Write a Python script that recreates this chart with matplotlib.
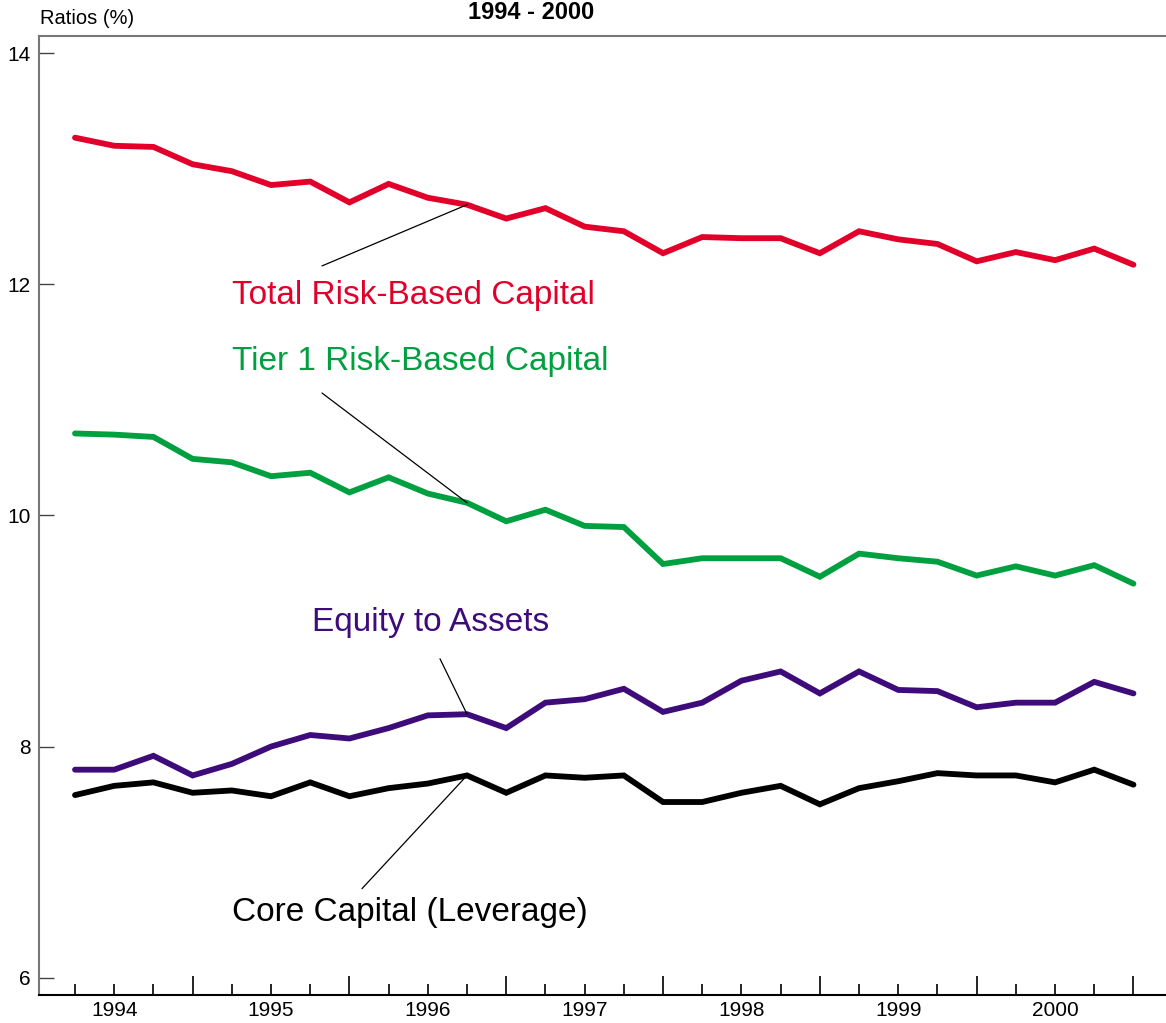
#Imports
import matplotlib
matplotlib.use('Agg')
import matplotlib.pyplot as plt
import numpy as np

plt.rcParams['font.family'] = ['Liberation Sans', 'DejaVu Sans']

#Data - quarterly ratios (%), 1994 Q1 - 2000 Q4
years = ['1994', '1995', '1996', '1997', '1998', '1999', '2000']
total_rbc = [13.27, 13.20, 13.19, 13.04, 12.98, 12.86, 12.89, 12.71, 12.87, 12.75, 12.69, 12.57, 12.66, 12.50,
             12.46, 12.27, 12.41, 12.40, 12.40, 12.27, 12.46, 12.39, 12.35, 12.20, 12.28, 12.21, 12.31, 12.17]
tier1_rbc = [10.71, 10.70, 10.68, 10.49, 10.46, 10.34, 10.37, 10.20, 10.33, 10.19, 10.11, 9.95, 10.05, 9.91,
             9.90, 9.58, 9.63, 9.63, 9.63, 9.47, 9.67, 9.63, 9.60, 9.48, 9.56, 9.48, 9.57, 9.41]
equity_assets = [7.80, 7.80, 7.92, 7.75, 7.85, 8.00, 8.10, 8.07, 8.16, 8.27, 8.28, 8.16, 8.38, 8.41,
                 8.50, 8.30, 8.38, 8.57, 8.65, 8.46, 8.65, 8.49, 8.48, 8.34, 8.38, 8.38, 8.56, 8.46]
core_capital = [7.58, 7.66, 7.69, 7.60, 7.62, 7.57, 7.69, 7.57, 7.64, 7.68, 7.75, 7.60, 7.75, 7.73,
                7.75, 7.52, 7.52, 7.60, 7.66, 7.50, 7.64, 7.70, 7.77, 7.75, 7.75, 7.69, 7.80, 7.67]
names = ['Total Risk-Based Capital', 'Tier 1 Risk-Based Capital', 'Equity to Assets', 'Core Capital (Leverage)']
colors = ['#E2002A', '#00A041', '#3D0C7A', '#000000']

quarters = np.arange(len(total_rbc))

fig = plt.figure(figsize=(11.66, 10.23), dpi=100)
ax = fig.add_axes([0.0334, 0.0274, 0.9666, 0.9374])

series = [total_rbc, tier1_rbc, equity_assets, core_capital]
for vals, c in zip(series, colors):
    ax.plot(quarters, vals, color=c, lw=4.2, solid_joinstyle='miter', solid_capstyle='round')

#Labels with leader lines to the 1996 Q3 point
label_pos = [(4.0, 11.90), (4.0, 11.33), (6.05, 9.07), (4.0, 6.56)]
leader_start = [(6.30, 12.16), (6.30, 11.06), (9.31, 8.76), (7.32, 6.77)]
for vals, c, name, (tx, ty), (lx, ly) in zip(series, colors, names, label_pos, leader_start):
    ax.text(tx, ty, name, color=c, fontsize=24, ha='left', va='center')
    ax.annotate('', xy=(10, vals[10]), xytext=(lx, ly),
                arrowprops=dict(arrowstyle='-', lw=0.9, color='black', shrinkA=0, shrinkB=0))

ax.set_xlim(-0.92, 27.83)
ax.set_ylim(5.85, 14.15)

#Axes styling
ax.spines['right'].set_visible(False)
ax.spines['top'].set_color('#777777')
ax.spines['top'].set_linewidth(1.5)
ax.spines['left'].set_color('#777777')
ax.spines['left'].set_linewidth(1.5)
ax.spines['bottom'].set_color('black')
ax.spines['bottom'].set_linewidth(1.5)

ax.set_yticks([6, 8, 10, 12, 14])
ax.tick_params(axis='y', direction='in', length=11, width=1, color='#444444', labelsize=15, pad=6)

major_q = [q for q in quarters if q % 4 == 3]
minor_q = [q for q in quarters if q % 4 != 3]
ax.set_xticks(major_q)
ax.set_xticklabels([''] * len(major_q))
ax.set_xticks(minor_q, minor=True)
ax.set_xticklabels([years[q // 4] if q % 4 == 1 else '' for q in minor_q], minor=True)
ax.tick_params(axis='x', which='major', direction='in', length=14, width=1.2, color='black')
ax.tick_params(axis='x', which='minor', direction='in', length=8, width=1.2, color='black', labelsize=15, pad=4)

fig.text(0.0343, 1 - 18 / 1023, 'Ratios (%)', fontsize=14.5, ha='left', va='center')
fig.text(531 / 1166, 1 - 1 / 1023, '1994 - 2000', fontsize=17, fontweight='bold', ha='center', va='top')

plt.savefig('out.png', dpi=100)
